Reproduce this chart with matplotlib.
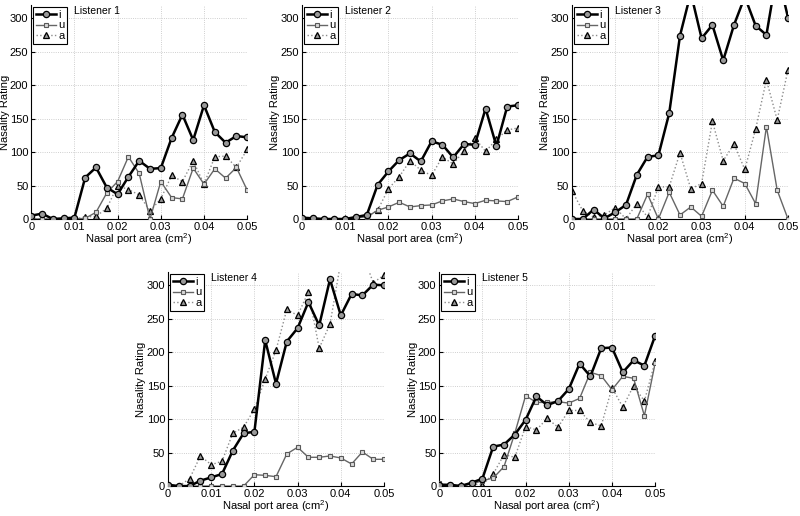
import matplotlib
matplotlib.use('Agg')
import matplotlib.pyplot as plt

plt.rcParams['font.family'] = ['Liberation Sans', 'DejaVu Sans']
plt.rcParams['mathtext.default'] = 'regular'

# Nasal port area (cm^2), 21 steps
area = [0.0, 0.0025, 0.005, 0.0075, 0.01, 0.0125, 0.015, 0.0175, 0.02, 0.0225, 0.025,
        0.0275, 0.03, 0.0325, 0.035, 0.0375, 0.04, 0.0425, 0.045, 0.0475, 0.05]

# Listener 1
i1 = [5, 8, 0, 1, 2, 62, 77, 47, 37, 63, 87, 75, 76, 121, 156, 118, 170, 130, 114, 124, 122]
u1 = [0, 0, 0, 0, 0, 1, 10, 39, 56, 93, 68, 0, 56, 32, 30, 76, 52, 75, 61, 77, 43]
a1 = [1, 0, 0, 0, 0, 3, 4, 16, 50, 44, 36, 12, 30, 65, 56, 87, 52, 93, 94, 77, 104]
# Listener 2
i2 = [2, 1, 0, 0, 0, 3, 6, 51, 71, 88, 98, 86, 116, 111, 92, 112, 111, 165, 109, 168, 170]
u2 = [1, 1, 0, 0, 0, 2, 3, 13, 18, 25, 18, 20, 21, 27, 30, 26, 23, 28, 27, 26, 33]
a2 = [1, 0, 0, 0, 0, 2, 3, 13, 45, 63, 87, 73, 65, 93, 82, 102, 121, 101, 119, 133, 136]
# Listener 3
i3 = [0, 0, 14, 1, 10, 21, 66, 93, 95, 158, 274, 338, 270, 290, 237, 290, 332, 289, 275, 370, 301]
u3 = [0, 0, 0, 0, 0, 0, 0, 37, 0, 40, 6, 18, 4, 43, 19, 61, 53, 23, 138, 43, 0]
a3 = [42, 12, 3, 6, 17, 0, 23, 3, 48, 48, 99, 45, 53, 146, 87, 112, 74, 134, 208, 148, 223]
# Listener 4
i4 = [2, 0, 0, 8, 13, 18, 53, 79, 81, 218, 153, 216, 236, 275, 240, 309, 255, 287, 285, 301, 300]
u4 = [0, 0, 0, 0, 0, 0, 0, 0, 17, 16, 14, 48, 58, 43, 43, 45, 42, 33, 51, 40, 40]
a4 = [1, 0, 11, 45, 32, 37, 79, 88, 115, 160, 203, 264, 255, 290, 206, 242, 335, 370, 348, 304, 315]
# Listener 5
i5 = [1, 2, 0, 5, 11, 59, 62, 77, 99, 134, 121, 127, 145, 183, 164, 206, 207, 170, 188, 180, 225]
u5 = [4, 2, 0, 3, 8, 12, 29, 79, 135, 125, 125, 126, 124, 131, 170, 165, 144, 164, 161, 105, 184]
a5 = [1, 1, 2, 3, 2, 18, 47, 43, 89, 84, 101, 88, 113, 113, 95, 90, 147, 118, 150, 127, 187]

listeners = ['Listener 1', 'Listener 2', 'Listener 3', 'Listener 4', 'Listener 5']
i_data = [i1, i2, i3, i4, i5]
u_data = [u1, u2, u3, u4, u5]
a_data = [a1, a2, a3, a4, a5]

xticks = [0, 0.01, 0.02, 0.03, 0.04, 0.05]
xticklabels = ['0', '0.01', '0.02', '0.03', '0.04', '0.05']
yticks = [0, 50, 100, 150, 200, 250, 300]

# axes boxes in figure fractions (left, bottom, width, height)
w, h = 0.27, 0.415
boxes = [(0.039, 0.5756, w, h), (0.3775, 0.5756, w, h), (0.715, 0.5756, w, h),
         (0.21, 0.058, w, h), (0.549, 0.058, w, h)]

fig = plt.figure(figsize=(8, 5.16), dpi=100)

for n in range(5):
    ax = fig.add_axes(boxes[n])
    ax.plot(area, i_data[n], '-', color='black', lw=1.8, marker='o', ms=4.5,
            mfc='0.6', mec='black', mew=0.9, label='i', zorder=4)
    ax.plot(area, u_data[n], '-', color='0.4', lw=1.0, marker='s', ms=3.5,
            mfc='0.85', mec='0.35', mew=0.8, label='u', zorder=3)
    ax.plot(area, a_data[n], ':', color='0.55', lw=1.0, marker='^', ms=5,
            mfc='0.6', mec='black', mew=0.9, label='a', zorder=2)

    ax.set_xlim(0, 0.05)
    ax.set_ylim(0, 320)
    ax.set_xticks(xticks)
    ax.set_xticklabels(xticklabels)
    ax.set_yticks(yticks)
    ax.tick_params(direction='in', length=3, labelsize=8, pad=2)
    ax.grid(True, linestyle=':', color='0.75', lw=0.6)
    ax.set_axisbelow(True)
    ax.spines['top'].set_visible(False)
    ax.spines['right'].set_visible(False)
    ax.set_xlabel('Nasal port area (cm$^{2}$)', fontsize=8)
    ax.set_ylabel('Nasality Rating', fontsize=8)
    ax.xaxis.set_label_coords(0.5, -0.058)
    ax.yaxis.set_label_coords(-0.1, 0.5)
    ax.text(0.2, 0.97, listeners[n], transform=ax.transAxes, fontsize=7.5,
            va='center', ha='left')

    leg = ax.legend(loc='upper left', fontsize=8, fancybox=False, framealpha=1,
                    handlelength=1.8, handletextpad=0.2, borderpad=0.25,
                    labelspacing=0.05, borderaxespad=0.2)
    leg.get_frame().set_edgecolor('black')
    leg.get_frame().set_linewidth(0.8)

fig.savefig('out.png', dpi=100)
